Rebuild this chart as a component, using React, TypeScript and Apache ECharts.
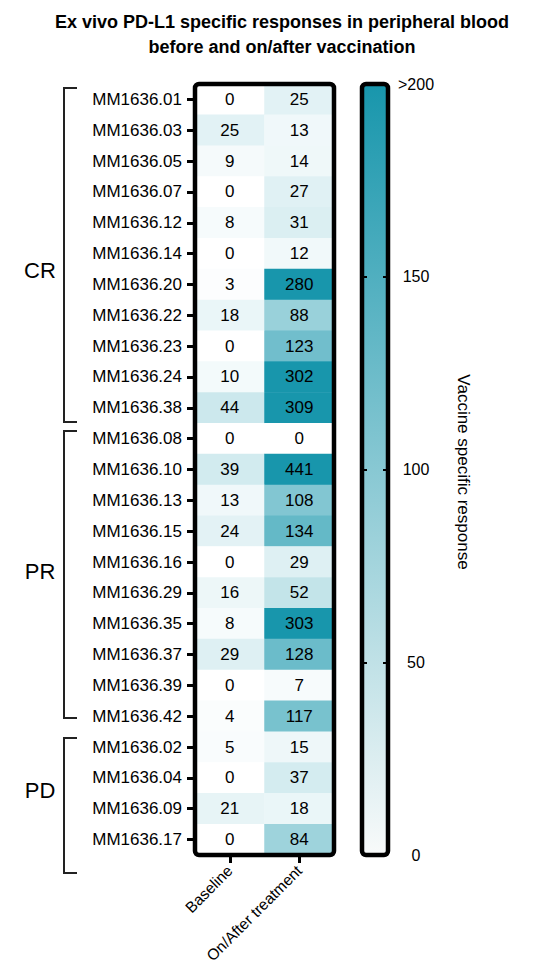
import React, { useEffect, useRef } from "react";
import * as echarts from "echarts";

const rowLabels = [
  "MM1636.01", "MM1636.03", "MM1636.05", "MM1636.07", "MM1636.12", "MM1636.14",
  "MM1636.20", "MM1636.22", "MM1636.23", "MM1636.24", "MM1636.38",
  "MM1636.08", "MM1636.10", "MM1636.13", "MM1636.15", "MM1636.16", "MM1636.29",
  "MM1636.35", "MM1636.37", "MM1636.39", "MM1636.42",
  "MM1636.02", "MM1636.04", "MM1636.09", "MM1636.17",
];
const colLabels = ["Baseline", "On/After treatment"];
const baseline = [0, 25, 9, 0, 8, 0, 3, 18, 0, 10, 44, 0, 39, 13, 24, 0, 16, 8, 29, 0, 4, 5, 0, 21, 0];
const onAfter = [25, 13, 14, 27, 31, 12, 280, 88, 123, 302, 309, 0, 441, 108, 134, 29, 52, 303, 128, 7, 117, 15, 37, 18, 84];
const groupNames = ["CR", "PR", "PD"];
const scaleMin = 0;
const scaleMax = 200;
const scaleTicks = [0, 50, 100, 150, 200];
const colorbarTitle = "Vaccine specific response";
const titleText = "Ex vivo PD-L1 specific responses in peripheral blood\nbefore and on/after vaccination";

const FONT = 'Arial, "Liberation Sans", Helvetica, sans-serif';
const LOW = "#ffffff";
const HIGH = "#1896ac";

export default function App() {
  const ref = useRef<HTMLDivElement>(null);
  useEffect(() => {
    if (!ref.current) return;
    const chart = echarts.init(ref.current, undefined, { renderer: "svg" });
    const heat: number[][] = [];
    rowLabels.forEach((_, i) => {
      heat.push([0, i, baseline[i]]);
      heat.push([1, i, onAfter[i]]);
    });
    const gL = 195, gT = 84, gW = 139, gH = 771;
    const cbL = 362, cbW = 26;
    const bracket = (top: number, bottom: number) => ({
      type: "polyline",
      shape: { points: [[77, top], [64, top], [64, bottom], [77, bottom]] },
      style: { stroke: "#222", lineWidth: 2, fill: null },
    });
    const groupY = [270, 571, 790];
    const brackets = [
      [88, 422],
      [431, 718],
      [738, 873],
    ];
    chart.setOption({
      animation: false,
      title: {
        text: titleText,
        left: 277,
        textAlign: "center",
        top: 4,
        textStyle: { fontFamily: FONT, fontSize: 18, fontWeight: "bold", lineHeight: 25, color: "#000" },
      },
      grid: [
        { left: gL, top: gT, width: gW, height: gH, containLabel: false, outerBoundsMode: "none" },
        { left: cbL, top: gT, width: cbW, height: gH, containLabel: false, outerBoundsMode: "none" },
      ],
      xAxis: [
        {
          type: "category",
          gridIndex: 0,
          data: colLabels,
          position: "bottom",
          axisLine: { show: false },
          axisTick: { show: true, alignWithLabel: true, length: 8, lineStyle: { color: "#000", width: 3 } },
          axisLabel: { rotate: 45, margin: 13, fontSize: 15.5, fontFamily: FONT, color: "#000", interval: 0 },
          splitLine: { show: false },
        },
        {
          type: "category",
          gridIndex: 1,
          data: [""],
          show: false,
        },
      ],
      yAxis: [
        {
          type: "category",
          gridIndex: 0,
          data: rowLabels,
          inverse: true,
          axisLine: { show: false },
          axisTick: { show: true, alignWithLabel: true, length: 8, lineStyle: { color: "#000", width: 3 } },
          axisLabel: { margin: 13, fontSize: 17, fontFamily: FONT, color: "#000", interval: 0 },
          splitLine: { show: false },
        },
        {
          type: "value",
          gridIndex: 1,
          min: scaleMin,
          max: scaleMax,
          interval: 50,
          position: "right",
          z: 10,
          axisLine: { show: false },
          axisTick: { show: true, inside: true, length: 5, lineStyle: { color: "#000", width: 2 } },
          axisLabel: {
            margin: 28,
            align: "center",
            fontSize: 16,
            fontFamily: FONT,
            color: "#000",
            formatter: (v: number) => (v === scaleMax ? ">" + v : String(v)),
            customValues: scaleTicks,
          },
          splitLine: { show: false },
        },
        {
          type: "value",
          gridIndex: 1,
          min: scaleMin,
          max: scaleMax,
          interval: 50,
          position: "left",
          z: 10,
          axisLine: { show: false },
          axisTick: { show: true, inside: true, length: 5, lineStyle: { color: "#000", width: 2 } },
          axisLabel: { show: false },
          splitLine: { show: false },
        },
      ],
      visualMap: {
        show: false,
        type: "continuous",
        seriesIndex: 0,
        min: scaleMin,
        max: scaleMax,
        inRange: { color: [LOW, HIGH] },
      },
      series: [
        {
          type: "heatmap",
          xAxisIndex: 0,
          yAxisIndex: 0,
          data: heat,
          label: { show: true, fontSize: 17, fontFamily: FONT, color: "#000" },
          itemStyle: { borderWidth: 0 },
        },
        {
          type: "bar",
          xAxisIndex: 1,
          yAxisIndex: 1,
          data: [scaleMax],
          barWidth: "100%",
          silent: true,
          itemStyle: {
            color: new echarts.graphic.LinearGradient(0, 1, 0, 0, [
              { offset: 0, color: "#f8fafa" },
              { offset: 1, color: HIGH },
            ]),
          },
          z: 1,
        },
      ],
      graphic: [
        {
          type: "rect",
          z: 100,
          shape: { x: gL, y: gT, width: gW, height: gH, r: 4 },
          style: { fill: null, stroke: "#000", lineWidth: 4.5 },
        },
        {
          type: "rect",
          z: 100,
          shape: { x: cbL, y: gT, width: cbW, height: gH, r: 4 },
          style: { fill: null, stroke: "#000", lineWidth: 4.5 },
        },
        ...brackets.map(([a, b]) => ({ ...bracket(a, b), z: 50 })),
        ...groupNames.map((g, i) => ({
          type: "text",
          z: 50,
          x: 40,
          y: groupY[i],
          style: {
            text: g,
            fontSize: 22,
            fontFamily: FONT,
            fill: "#000",
            textAlign: "center",
            textVerticalAlign: "middle",
          },
        })),
        {
          type: "text",
          z: 50,
          x: 463,
          y: 472,
          rotation: -Math.PI / 2,
          style: {
            text: colorbarTitle,
            fontSize: 17,
            fontFamily: FONT,
            fill: "#000",
            textAlign: "center",
            textVerticalAlign: "middle",
          },
        },
      ],
    });
    return () => chart.dispose();
  }, []);
  return (
    <div
      ref={ref}
      style={{ position: "fixed", left: 0, top: 0, width: 560, height: 972, background: "#fff" }}
    />
  );
}
